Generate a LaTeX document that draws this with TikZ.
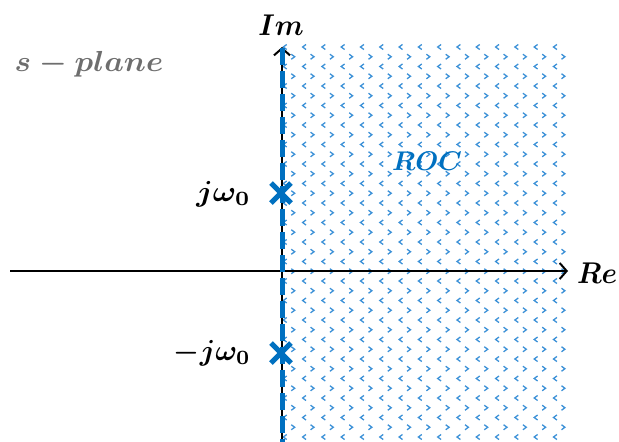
\documentclass[tikz,border=0pt]{standalone}
\usepackage{amsmath}
\usepackage{graphicx}
\usetikzlibrary{arrows.meta}
\definecolor{roc}{RGB}{0,112,192}
\definecolor{patt}{RGB}{60,145,215}
\definecolor{plgray}{RGB}{110,110,110}
\newcommand{\bmlbl}[3]{\scalebox{#1}[#2]{$\boldsymbol{#3}$}}
\tikzset{
  axis/.style={line width=2pt,-{Straight Barb[length=7pt,width=16pt,line width=2pt]}},
  polemark/.style={roc,line width=5pt},
  lbl/.style={inner sep=0pt,font=\fontsize{10}{12}\selectfont\boldmath},
  chev/.style={patt,line width=1.3pt}
}
\begin{document}
\begin{tikzpicture}[x=1pt,y=-1pt]
\useasboundingbox (0,0) rectangle (619,442);
% pattern
\foreach \r in {0,...,40}{
  \pgfmathsetmacro{\yy}{47+9.75*\r}
  \pgfmathtruncatemacro{\rowpar}{mod(\r,2)}
  \foreach \k in {0,...,14}{
    \ifnum\rowpar=0
      \pgfmathsetmacro{\xx}{285+19.3*\k}
      \draw[chev] (\xx+1.7,\yy-2.5) -- (\xx-1.7,\yy) -- (\xx+1.7,\yy+2.5);
    \else
      \pgfmathsetmacro{\xx}{293+19.3*\k}
      \draw[chev] (\xx-1.7,\yy-2.5) -- (\xx+1.7,\yy) -- (\xx-1.7,\yy+2.5);
    \fi
  }
}
% axes
\coordinate (xs) at (10,271);
\coordinate (xe) at (568,271);
\coordinate (ys) at (282,442);
\coordinate (ye) at (282,47);
\draw[axis] (xs) -- (xe);
\draw[axis] (ys) -- (ye);
\draw[roc,line width=5pt,dash pattern=on 17pt off 6pt] (282,48) -- (282,442);
% poles
\coordinate (p1) at (281,193);
\coordinate (p2) at (281,353);
\foreach \p in {p1,p2}{
  \draw[polemark] ([shift={(-10,-10)}]\p) -- ([shift={(10,10)}]\p);
  \draw[polemark] ([shift={(-10,10)}]\p) -- ([shift={(10,-10)}]\p);
}
% labels
\node[lbl,anchor=base] (im) at (281,35) {\bmlbl{2.8}{3.0}{Im}};
\node[lbl,anchor=base west] (re) at (577,283) {\bmlbl{2.8}{3.0}{Re}};
\node[lbl,anchor=base,text=plgray] (sp) at (89,71) {\bmlbl{3.1}{2.9}{s-plane}};
\node[lbl,anchor=base east] (jw) at (251,201) {\bmlbl{3.1}{2.9}{j\omega_0}};
\node[lbl,anchor=base east] (mjw) at (251,360) {\bmlbl{2.9}{2.9}{-j\omega_0}};
\node[lbl,anchor=base,text=roc] (roc) at (427,170) {\bmlbl{2.65}{2.7}{ROC}};
\end{tikzpicture}
\end{document}
